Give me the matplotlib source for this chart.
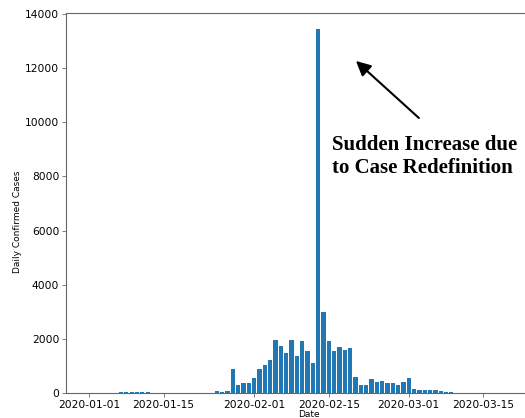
import matplotlib
matplotlib.use("Agg")
import matplotlib.pyplot as plt
import matplotlib.dates as mdates
import pandas as pd

# Early small counts (Jan 5 - Jan 14)
early_dates = pd.date_range("2020-01-05", "2020-01-14", freq="D")
early_values = [10, 15, 20, 50, 30, 25, 20, 20, 15, 10]

# Main period (Jan 25 - Mar 13)
main_dates = pd.date_range("2020-01-25", "2020-03-13", freq="D")
main_values = [
    80, 50, 80, 889, 309, 358, 383,            # Jan 25 - Jan 31
    568, 889, 1037, 1235, 1951, 1753, 1494,    # Feb 1 - Feb 7
    1975, 1383, 1914, 1543, 1099, 13450, 2988, # Feb 8 - Feb 14
    1914, 1543, 1691, 1593, 1650, 605, 310,    # Feb 15 - Feb 21
    310, 520, 400, 444, 358, 358, 284,         # Feb 22 - Feb 28
    407, 543, 160, 99, 99, 111, 111,           # Feb 29 - Mar 6
    62, 49, 25, 15, 10, 8, 5,                  # Mar 7 - Mar 13
]

dates = list(early_dates) + list(main_dates)
values = early_values + main_values

y_ticks = [0, 2000, 4000, 6000, 8000, 10000, 12000, 14000]
annotation_text = "Sudden Increase due\nto Case Redefinition"

W, H = 525, 418
fig = plt.figure(figsize=(W / 100, H / 100), dpi=100)
ax = fig.add_axes([66 / W, (H - 393) / H, (551 - 66) / W, (393 - 12.5) / H])

ax.bar(dates, values, width=0.8, color="#1f77b4")

t0 = pd.Timestamp("2020-01-01")
ax.set_xlim(t0 - pd.Timedelta(days=4.32), t0 + pd.Timedelta(days=86.7))
ax.set_ylim(0, 14060)
ax.set_yticks(y_ticks)

ax.xaxis.set_major_locator(mdates.DayLocator(bymonthday=[1, 15]))
ax.xaxis.set_major_formatter(mdates.DateFormatter("%Y-%m-%d"))

for s in ["left", "bottom", "top", "right"]:
    ax.spines[s].set_color("0.4")
    ax.spines[s].set_linewidth(0.8)
ax.tick_params(axis="both", labelsize=7.7, length=2.8, width=0.6, color="0.4", pad=2)

ax.set_ylabel("Daily Confirmed Cases", fontsize=6.5)
ax.yaxis.set_label_coords(-0.09, 0.45)
ax.set_xlabel("Date", fontsize=6.5, labelpad=0.5)

ax.text(t0 + pd.Timedelta(days=45.6), 9550, annotation_text,
        fontsize=15, fontweight="bold", family="Liberation Serif",
        va="top", ha="left", linespacing=1.25)

ax.annotate("", xy=(t0 + pd.Timedelta(days=50.1), 12269),
            xytext=(t0 + pd.Timedelta(days=61.9), 10163),
            arrowprops=dict(arrowstyle="-|>", color="black", lw=1.5,
                            mutation_scale=22, shrinkA=0, shrinkB=0))

fig.savefig("out.png", dpi=100)
